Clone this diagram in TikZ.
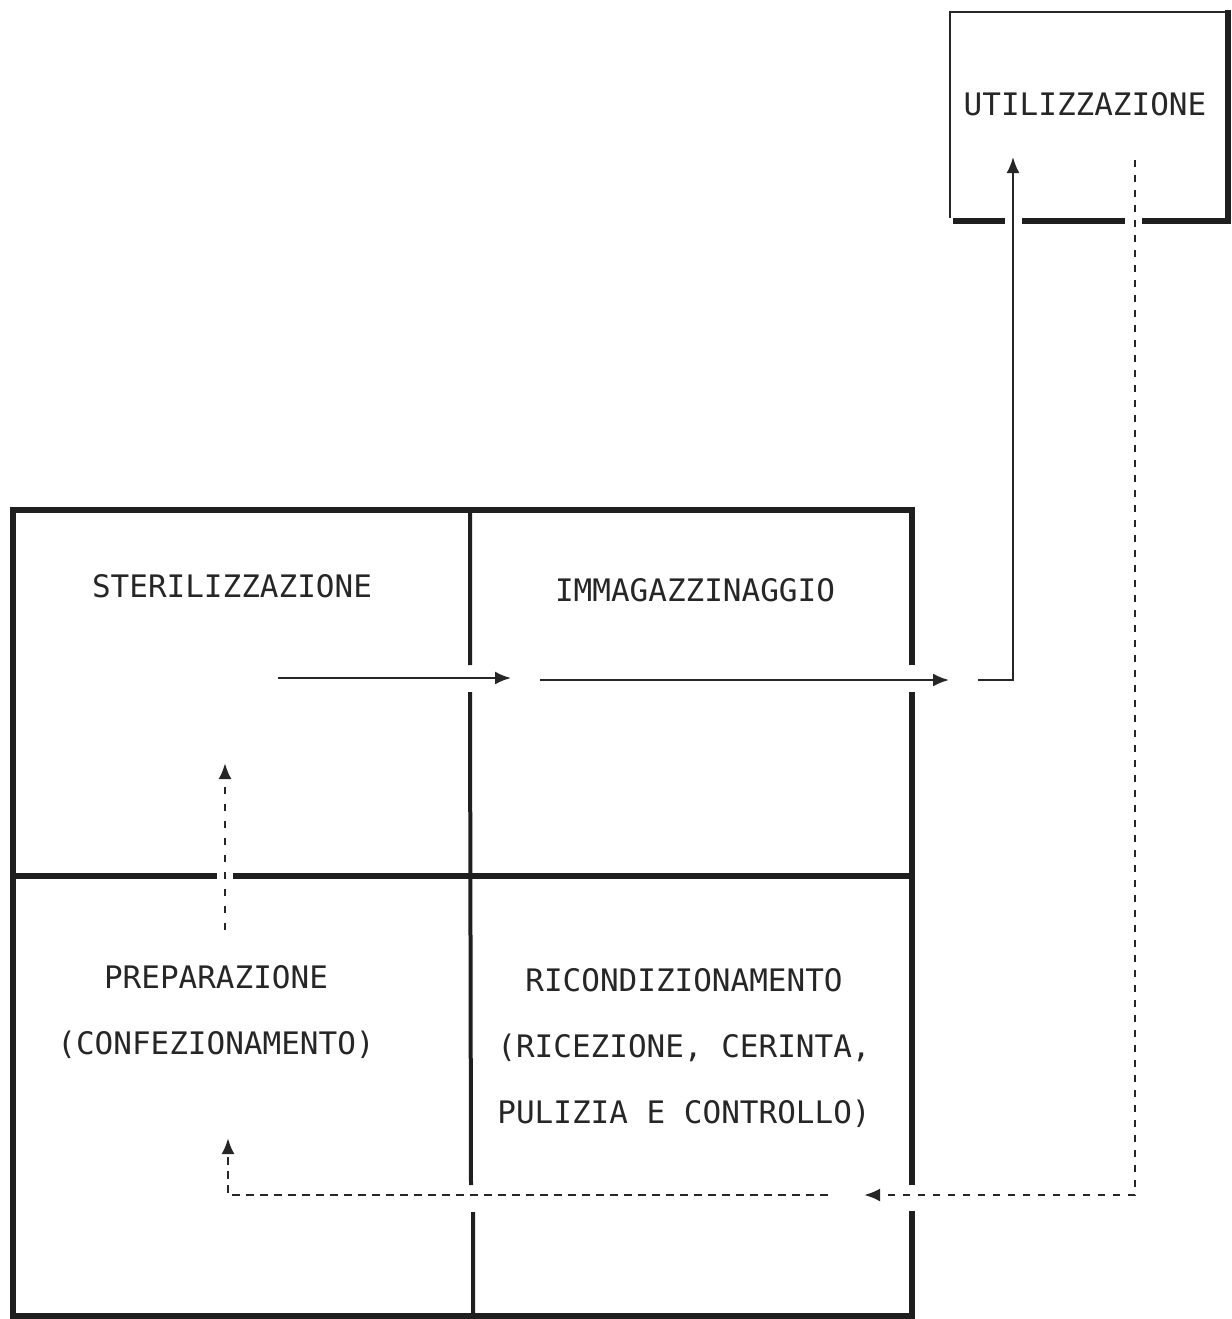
\documentclass[tikz,border=0pt]{standalone}
\usepackage{fontspec}
\setmonofont{DejaVu Sans Mono}
\usetikzlibrary{arrows.meta}
\begin{document}
\begin{tikzpicture}[x=1pt,y=-1pt,
  wall/.style={line width=5.5pt,color=black!88},
  divider/.style={line width=4pt,color=black!88},
  flow/.style={line width=2.2pt,color=black!85,-{Latex[length=16pt,width=13pt]}},
  dflow/.style={line width=2.6pt,color=black!85,dash pattern=on 8pt off 6pt,-{Latex[length=16pt,width=13pt]}},
  lbl/.style={font=\ttfamily\fontsize{31}{66}\selectfont,color=black!85,inner sep=0pt,align=center}]
\useasboundingbox (0,0) rectangle (1231,1319);
% UTILIZZAZIONE box
\draw[line width=2.2pt,color=black!85] (1227,12) -- (950,12) -- (950,218);
\draw[wall] (1228,10) -- (1228,224);
\draw[wall] (953,221) -- (1005,221) (1022,221) -- (1125,221) (1142,221) -- (1231,221);
\node[lbl] (util) at (1085,104) {UTILIZZAZIONE};
% outer walls
\draw[wall] (912,665) -- (912,510) -- (13,510) -- (13,1316) -- (912,1316) -- (912,1211);
\draw[wall] (912,692) -- (912,1185);
% dividers
\draw[divider] (470,510) -- (470,665) (470,692) -- (471,1185) (473,1212) -- (473,1316);
\draw[divider,line width=5.5pt] (13,876) -- (217,876) (233,876) -- (912,876);
% room labels
\node[lbl] (steril) at (232,586) {STERILIZZAZIONE};
\node[lbl] (immag) at (695,590) {IMMAGAZZINAGGIO};
\node[lbl] (prep) at (216,1012) {PREPARAZIONE\\(CONFEZIONAMENTO)};
\node[lbl] (ricond) at (684,1048) {RICONDIZIONAMENTO\\(RICEZIONE, CERINTA,\\PULIZIA E CONTROLLO)};
% flow coordinates
\coordinate (a1) at (278,678);
\coordinate (a2) at (511,678);
\coordinate (b1) at (540,680);
\coordinate (b2) at (949,680);
\coordinate (c1) at (978,680);
\coordinate (c2) at (1013,680);
\coordinate (c3) at (1013,157);
\coordinate (d1) at (1135,160);
\coordinate (d2) at (1135,1195);
\coordinate (d3) at (864,1195);
\coordinate (e1) at (828,1195);
\coordinate (e2) at (228,1195);
\coordinate (e3) at (228,1138);
\coordinate (f1) at (225,930);
\coordinate (f2) at (225,763);
\draw[flow] (a1) -- (a2);
\draw[flow] (b1) -- (b2);
\draw[flow] (c1) -- (c2) -- (c3);
\draw[dflow,dash pattern=on 7pt off 8pt] (d1) -- (d2) -- (d3);
\draw[dflow] (e1) -- (e2) -- (e3);
\draw[dflow,dash pattern=on 7pt off 10pt] (f1) -- (f2);
\end{tikzpicture}
\end{document}
